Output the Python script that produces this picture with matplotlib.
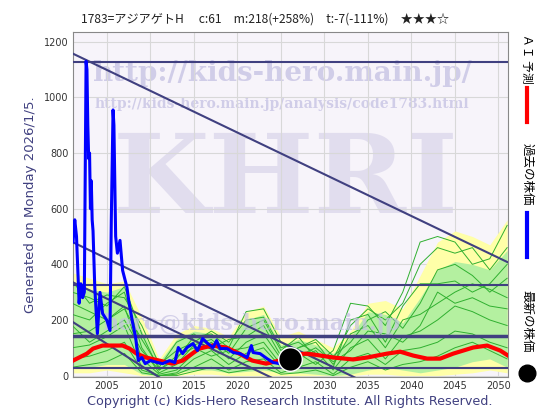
import numpy as np
import matplotlib
matplotlib.use('Agg')
import matplotlib.pyplot as plt

plt.rcParams['font.family'] = ['DejaVu Sans']
JP = ['Noto Sans CJK JP', 'DejaVu Sans']
NAVY = '#404080'

# past stock price (blue)
past_years = [2001.1, 2001.3, 2001.5, 2001.8, 2002.0, 2002.2, 2002.4, 2002.6, 2002.7, 2002.8,
              2002.9, 2003.0, 2003.1, 2003.2, 2003.3, 2003.4, 2003.6, 2003.9, 2004.2, 2004.5,
              2005.0, 2005.35, 2005.5, 2005.7, 2005.8, 2005.9, 2006.0, 2006.2, 2006.5, 2006.8,
              2007.3, 2007.5, 2007.9, 2008.3, 2008.6, 2009.0, 2009.4, 2010.0, 2010.8, 2011.4,
              2012.2, 2012.8, 2013.2, 2013.7, 2014.2, 2014.9, 2015.4, 2016.0, 2016.6, 2017.2,
              2017.6, 2018.0, 2018.8, 2019.5, 2020.3, 2021.1, 2021.6, 2021.8, 2022.6, 2023.4,
              2024.1, 2024.9]
past_price = [480, 560, 500, 260, 330, 280, 300, 1130, 1100, 900,
              780, 800, 600, 700, 560, 520, 317, 151, 299, 223,
              198, 162, 560, 955, 900, 700, 500, 440, 486, 378,
              317, 270, 198, 137, 54, 65, 43, 54, 47, 43,
              54, 47, 101, 79, 101, 115, 90, 133, 115, 101,
              126, 97, 97, 83, 79, 65, 108, 83, 79, 61,
              47, 43]

# AI forecast (red)
ai_years = [2001.1, 2002.7, 2003.4, 2004.5, 2005.7, 2006.8, 2007.6, 2008.4, 2009.5, 2011.0,
            2012.5, 2013.7, 2015.6, 2017.1, 2018.7, 2020.2, 2021.7, 2023.3, 2024.8, 2026.3,
            2027.8, 2028.7, 2031.0, 2033.3, 2034.9, 2037.2, 2038.7, 2040.2, 2041.8, 2043.3,
            2044.8, 2047.1, 2048.7, 2050.2, 2051.1]
ai_value = [54, 79, 97, 108, 108, 108, 97, 79, 65, 54,
            43, 54, 97, 108, 101, 79, 54, 43, 54, 72,
            79, 76, 65, 58, 65, 79, 86, 72, 61, 61,
            79, 101, 108, 90, 72]

latest_year = 2026.0
latest_price = 61

# forecast bands
band_years = list(range(2001, 2052, 2))
yellow_hi = [370, 350, 330, 340, 210, 60, 150, 180, 170, 140, 230, 250, 140,
             160, 130, 100, 160, 260, 270, 240, 360, 480, 520, 500, 470, 560]
yellow_lo = [10, 10, 20, 10, 0, 0, 0, 5, 5, 0, 0, 0, 0,
             0, 0, 0, 0, 5, 5, 0, 0, 0, 5, 10, 20, 10]
green_hi = [330, 310, 300, 320, 160, 50, 130, 160, 150, 120, 200, 220, 110,
            130, 110, 80, 140, 230, 220, 190, 280, 380, 410, 400, 380, 450]
green_lo = [30, 30, 40, 40, 5, 0, 10, 20, 20, 10, 15, 20, 10,
            10, 5, 0, 5, 20, 30, 20, 10, 20, 30, 50, 60, 30]
green_lines = [
    [300, 280, 250, 320, 150, 20, 60, 140, 150, 100, 230, 240, 120, 80, 40, 90, 260, 250, 180, 300, 480, 500, 480, 400, 420, 540],
    [340, 260, 290, 280, 180, 40, 90, 120, 160, 120, 200, 210, 100, 120, 80, 60, 180, 240, 200, 260, 400, 460, 440, 460, 380, 460],
    [220, 200, 260, 300, 100, 10, 40, 110, 130, 80, 170, 200, 90, 140, 60, 30, 200, 220, 120, 250, 330, 330, 340, 300, 330, 400],
    [260, 230, 200, 240, 130, 30, 120, 150, 100, 130, 140, 180, 70, 100, 130, 70, 120, 200, 230, 170, 260, 380, 400, 360, 300, 350],
    [150, 160, 200, 250, 60, 5, 20, 80, 120, 60, 120, 150, 60, 100, 120, 40, 150, 180, 100, 200, 220, 260, 300, 330, 310, 280],
    [180, 120, 160, 200, 90, 20, 70, 100, 70, 90, 100, 120, 40, 70, 100, 50, 90, 160, 150, 120, 180, 300, 260, 280, 250, 240],
    [100, 110, 140, 180, 30, 0, 10, 60, 90, 40, 80, 100, 30, 60, 90, 20, 100, 130, 60, 140, 160, 200, 250, 230, 200, 180],
    [60, 70, 90, 120, 20, 0, 5, 30, 60, 20, 50, 60, 10, 30, 50, 5, 60, 80, 40, 90, 100, 120, 160, 150, 120, 100],
    [30, 40, 50, 80, 10, 0, 0, 15, 30, 10, 20, 30, 5, 10, 20, 0, 30, 50, 20, 40, 50, 70, 100, 120, 90, 60],
]

# support / resistance lines
h_levels = [1128, 324, 144, 26]
h_widths = [1.5, 1.5, 2.5, 1.5]
trend_left = [1157, 479, 335, 192]
trend_right = [407, -271, -415, -808]

fig = plt.figure(figsize=(5.6, 4.2), dpi=100)
ax = fig.add_axes([0.1304, 0.1024, 0.7768, 0.8214])
ax.set_facecolor('#f7f4fa')
ax.set_xlim(2001.1, 2051.1)
ax.set_ylim(-5, 1235)
ax.set_xticks(range(2005, 2051, 5))
ax.set_yticks(range(0, 1201, 200))
ax.grid(True, color='#d8d8d8', lw=0.8, zorder=0)
ax.tick_params(length=0, labelsize=7, colors='#333333', pad=3)
for s in ax.spines.values():
    s.set_color('#888888')
    s.set_linewidth(0.8)

# watermarks
ax.text(0.48, 0.88, 'http://kids-hero.main.jp/', transform=ax.transAxes, ha='center', va='center',
        family='DejaVu Serif', weight='bold', fontsize=20, color='#c4c0e2', alpha=0.75, zorder=1)
ax.text(0.48, 0.79, 'http://kids-hero.main.jp/analysis/code1783.html', transform=ax.transAxes,
        ha='center', va='center', family='DejaVu Serif', weight='bold', fontsize=10,
        color='#c4c0e2', alpha=0.75, zorder=1)
ax.text(0.49, 0.565, 'KHRI', transform=ax.transAxes, ha='center', va='center',
        family='DejaVu Serif', weight='bold', fontsize=80, color='#dcd8ec', alpha=0.8, zorder=1)

ax.fill_between(band_years, yellow_lo, yellow_hi, color='#ffffa8', lw=0, zorder=2)
ax.fill_between(band_years, green_lo, green_hi, color='#b4f0a0', lw=0, zorder=2)
for gl in green_lines:
    ax.plot(band_years, gl, color='#30b030', lw=0.7, zorder=3)

ax.text(0.41, 0.155, 'hero@kids-hero.main.jp', transform=ax.transAxes, ha='center', va='center',
        family='DejaVu Serif', weight='bold', fontsize=16, color='#c4c0e2', alpha=0.7, zorder=4)

xs = np.array(ax.get_xlim())
for lv, w in zip(h_levels, h_widths):
    ax.axhline(lv, color=NAVY, lw=w, zorder=5)
for yl, yr in zip(trend_left, trend_right):
    ax.plot(xs, [yl, yr], color=NAVY, lw=1.5, zorder=5)

ax.plot(ai_years, ai_value, color='#ff0000', lw=3, zorder=6)
ax.plot(past_years, past_price, color='#0000ff', lw=2.2, zorder=7)
ax.plot([latest_year], [latest_price], 'o', color='black', ms=17, mec='white', mew=1, zorder=8)

fig.text(0.473, 0.955, '1783=アジアゲトH　 c:61　m:218(+258%)　t:-7(-111%)　★★★☆',
         ha='center', va='center', family=JP, fontsize=8.7, color='#222222')
fig.text(0.055, 0.512, 'Generated on Monday 2026/1/5.', rotation=90, ha='center', va='center',
         fontsize=9.5, color=NAVY)
fig.text(0.518, 0.043, 'Copyright (c) Kids-Hero Research Institute. All Rights Reserved.',
         ha='center', va='center', fontsize=9.2, color=NAVY)

# right legend
fig.text(0.941, 0.86, 'ＡＩ 予測', rotation=270, ha='center', va='center', family=JP, fontsize=8.5)
fig.add_artist(plt.Line2D([0.941, 0.941], [0.71, 0.79], color='#ff0000', lw=3))
fig.text(0.941, 0.585, '過去の株価', rotation=270, ha='center', va='center', family=JP, fontsize=9)
fig.add_artist(plt.Line2D([0.941, 0.941], [0.388, 0.493], color='#0000ff', lw=3))
fig.text(0.941, 0.236, '最新の株価', rotation=270, ha='center', va='center', family=JP, fontsize=9)
fig.add_artist(plt.Line2D([0.941], [0.113], marker='o', color='black', ms=12))

fig.savefig('out.png', dpi=100)
